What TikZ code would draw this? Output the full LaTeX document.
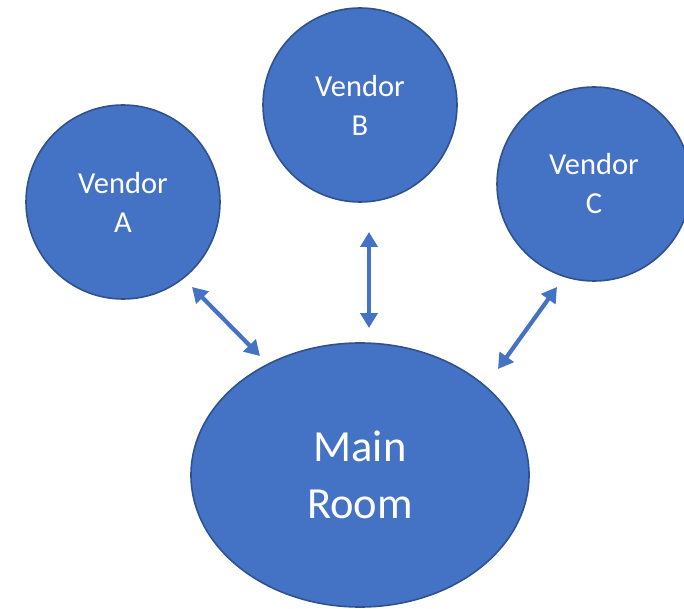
\documentclass[tikz,border=0pt]{standalone}
\usepackage{fontspec}
\setmainfont{Carlito}
\usetikzlibrary{arrows.meta,shapes.geometric}
\definecolor{bubblefill}{HTML}{4472C4}
\definecolor{bubbleline}{HTML}{2F528F}
\tikzset{
  vendor/.style={circle, fill=bubblefill, draw=bubbleline, line width=1.6pt,
    minimum size=194pt, inner sep=0pt, text=white, align=center,
    font=\fontsize{30.5}{39}\selectfont},
  room/.style={ellipse, fill=bubblefill, draw=bubbleline, line width=1.6pt,
    minimum width=338pt, minimum height=264pt, inner sep=0pt, text=white,
    align=center, font=\fontsize{44.5}{57}\selectfont},
  link/.style={draw=bubblefill, line width=4.2pt,
    {Triangle[width=17pt,length=15pt]}-{Triangle[width=17pt,length=15pt]}}
}
\begin{document}
\begin{tikzpicture}[x=1pt,y=-1pt]
  \useasboundingbox (0,0) rectangle (684,609);
  \clip (0,0) rectangle (684,609);
  \fill[white] (0,0) rectangle (684,609);

  \node[vendor] (va) at (123,202) {Vendor\\A};
  \node[vendor] (vb) at (360,105) {Vendor\\B};
  \node[vendor] (vc) at (594,184) {Vendor\\C};
  \node[room]   (mr) at (360,475) {Main\\Room};

  % free ends of the two-headed links
  \coordinate (a1) at (192,287);
  \coordinate (a2) at (260,356);
  \coordinate (b1) at (369,232);
  \coordinate (b2) at (369,328);
  \coordinate (c1) at (557,287);
  \coordinate (c2) at (498,369);

  \draw[link] (a1) -- (a2);
  \draw[link] (b1) -- (b2);
  \draw[link] (c1) -- (c2);
\end{tikzpicture}
\end{document}
